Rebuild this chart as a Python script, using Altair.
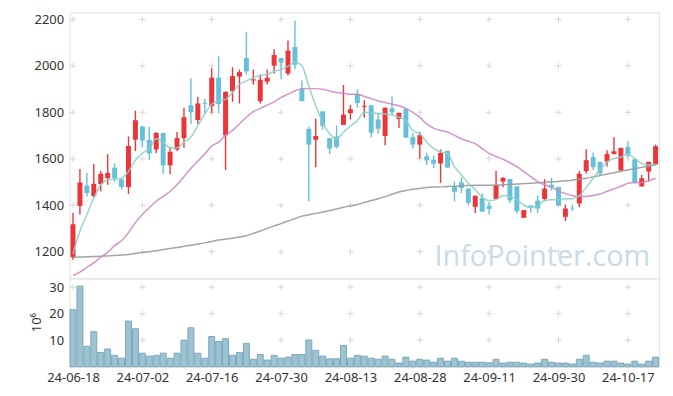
import itertools
import altair as alt
import pandas as pd

dates = ["24-06-18", "24-06-19", "24-06-20", "24-06-21", "24-06-24", "24-06-25", "24-06-26", "24-06-27", "24-06-28",
         "24-07-01", "24-07-02", "24-07-03", "24-07-04", "24-07-05", "24-07-08", "24-07-09", "24-07-10", "24-07-11",
         "24-07-12", "24-07-15", "24-07-16", "24-07-17", "24-07-18", "24-07-19", "24-07-22", "24-07-23", "24-07-24",
         "24-07-25", "24-07-26", "24-07-29", "24-07-30", "24-07-31",
         "24-08-01", "24-08-02", "24-08-05", "24-08-06", "24-08-07", "24-08-08", "24-08-09", "24-08-12", "24-08-13",
         "24-08-14", "24-08-16", "24-08-19", "24-08-20", "24-08-21", "24-08-22", "24-08-23", "24-08-26", "24-08-27",
         "24-08-28", "24-08-29", "24-08-30",
         "24-09-02", "24-09-03", "24-09-04", "24-09-05", "24-09-06", "24-09-09", "24-09-10", "24-09-11", "24-09-12",
         "24-09-13", "24-09-19", "24-09-20", "24-09-23", "24-09-24", "24-09-25", "24-09-26", "24-09-27", "24-09-30",
         "24-10-02", "24-10-04", "24-10-07", "24-10-08", "24-10-10", "24-10-11", "24-10-14", "24-10-15", "24-10-16",
         "24-10-17", "24-10-18", "24-10-21", "24-10-22", "24-10-23"]

open_ = [1176, 1397, 1485, 1440, 1491, 1516, 1562, 1511, 1478, 1682,
         1739, 1681, 1640, 1711, 1572, 1640, 1689, 1830, 1767, 1841,
         1827, 1949, 1701, 1891, 1954, 2034, 1937, 1848, 1932, 2001,
         2034, 1967, 2081, 1900, 1728, 1682, 1804, 1689, 1696, 1746,
         1797, 1878, 1824, 1830, 1769, 1698, 1817, 1771, 1815, 1693,
         1661, 1611, 1596, 1580, 1634, 1481, 1498, 1472, 1393, 1431,
         1396, 1427, 1502, 1513, 1481, 1346, 1399, 1420, 1427, 1488,
         1479, 1350, 1389, 1407, 1547, 1607, 1587, 1587, 1620, 1549,
         1651, 1598, 1481, 1545, 1576]
close = [1318, 1498, 1452, 1492, 1535, 1539, 1516, 1478, 1655, 1766,
         1678, 1623, 1711, 1572, 1630, 1689, 1779, 1800, 1838, 1837,
         1949, 1835, 1888, 1956, 1973, 1976, 1942, 1940, 1949, 2047,
         2014, 2066, 2005, 1848, 1661, 1698, 1742, 1644, 1651, 1790,
         1813, 1840, 1828, 1712, 1729, 1820, 1800, 1798, 1691, 1661,
         1701, 1593, 1579, 1625, 1562, 1458, 1474, 1410, 1441, 1372,
         1384, 1488, 1518, 1421, 1374, 1379, 1389, 1386, 1471, 1477,
         1399, 1386, 1386, 1536, 1594, 1564, 1537, 1620, 1632, 1647,
         1615, 1495, 1516, 1587, 1654]
high = [1367, 1556, 1539, 1577, 1547, 1620, 1580, 1516, 1696, 1807,
        1743, 1737, 1715, 1711, 1648, 1715, 1820, 1947, 1866, 1857,
        1990, 2041, 1890, 1994, 1984, 2147, 1984, 1963, 1984, 2072,
        2034, 2109, 2194, 1937, 1740, 1773, 1804, 1689, 1743, 1918,
        1832, 1899, 1852, 1830, 1793, 1820, 1868, 1798, 1815, 1712,
        1715, 1625, 1613, 1640, 1634, 1502, 1519, 1472, 1441, 1452,
        1414, 1547, 1520, 1513, 1481, 1379, 1399, 1441, 1512, 1519,
        1479, 1403, 1403, 1547, 1641, 1627, 1587, 1637, 1693, 1647,
        1675, 1598, 1530, 1587, 1661]
low = [1165, 1360, 1438, 1431, 1460, 1488, 1501, 1467, 1448, 1633,
       1650, 1596, 1624, 1535, 1533, 1633, 1647, 1750, 1750, 1796,
       1796, 1796, 1552, 1845, 1838, 1963, 1919, 1838, 1920, 1967,
       1942, 1959, 1984, 1848, 1417, 1563, 1726, 1621, 1644, 1746,
       1769, 1820, 1777, 1692, 1708, 1658, 1788, 1732, 1691, 1644,
       1601, 1573, 1559, 1496, 1562, 1417, 1452, 1399, 1367, 1372,
       1360, 1427, 1477, 1410, 1364, 1346, 1369, 1367, 1417, 1462,
       1399, 1332, 1374, 1391, 1537, 1552, 1528, 1566, 1620, 1549,
       1606, 1495, 1481, 1502, 1573]

ma5 = [1190, 1289, 1360, 1431, 1488, 1509, 1512, 1516, 1545, 1594,
       1623, 1644, 1686, 1672, 1647, 1647, 1672, 1693, 1743, 1793,
       1835, 1849, 1856, 1885, 1920, 1935, 1949, 1959, 1963, 1977,
       1984, 1998, 2015, 2001, 1913, 1828, 1757, 1708, 1686, 1715,
       1740, 1764, 1800, 1797, 1795, 1793, 1788, 1779, 1764, 1722,
       1708, 1672, 1644, 1630, 1623, 1566, 1530, 1495, 1467, 1434,
       1420, 1424, 1442, 1438, 1424, 1400, 1391, 1396, 1421, 1424,
       1424, 1427, 1428, 1442, 1477, 1516, 1552, 1587, 1601, 1608,
       1618, 1601, 1580, 1573, 1576]
ma20 = [1098, 1112, 1133, 1152, 1176, 1197, 1226, 1247, 1282, 1325,
        1360, 1389, 1417, 1438, 1460, 1488, 1523, 1559, 1590, 1621,
        1655, 1672, 1701, 1722, 1750, 1779, 1803, 1817, 1831, 1845,
        1864, 1878, 1892, 1902, 1902, 1902, 1899, 1892, 1885, 1882,
        1878, 1878, 1868, 1859, 1849, 1842, 1835, 1828, 1817, 1800,
        1779, 1750, 1732, 1722, 1715, 1701, 1686, 1675, 1665, 1644,
        1623, 1610, 1598, 1583, 1566, 1545, 1523, 1502, 1488, 1477,
        1462, 1450, 1441, 1438, 1438, 1442, 1448, 1460, 1471, 1481,
        1495, 1498, 1498, 1505, 1516]
ma60 = [1176, 1177, 1178, 1179, 1180, 1182, 1184, 1186, 1188, 1192,
        1197, 1200, 1204, 1209, 1214, 1218, 1223, 1228, 1233, 1238,
        1244, 1250, 1254, 1258, 1263, 1269, 1279, 1289, 1300, 1311,
        1321, 1332, 1342, 1353, 1359, 1365, 1371, 1377, 1384, 1391,
        1397, 1403, 1412, 1420, 1428, 1437, 1447, 1457, 1463, 1469,
        1472, 1476, 1478, 1479, 1481, 1482, 1484, 1485, 1486, 1486,
        1486, 1486, 1488, 1490, 1491, 1493, 1495, 1497, 1499, 1501,
        1502, 1505, 1508, 1512, 1516, 1522, 1528, 1534, 1540, 1546,
        1552, 1557, 1563, 1568, 1573]

volume = [21.5, 30.4, 7.7, 13.2, 5.4, 6.7, 4.3, 3.2, 17.2, 14.3,
          5.1, 4.0, 4.3, 5.1, 3.2, 5.1, 10.0, 14.7, 5.1, 3.2,
          11.4, 9.5, 10.6, 4.3, 5.4, 8.8, 2.8, 4.6, 2.5, 4.3,
          3.2, 3.6, 4.6, 4.6, 10.1, 6.2, 4.0, 3.0, 3.0, 8.0,
          3.2, 4.3, 4.0, 3.2, 2.8, 4.0, 2.8, 1.4, 3.6, 2.1,
          2.8, 2.5, 1.7, 3.2, 2.1, 3.2, 2.1, 1.7, 1.7, 1.7,
          1.5, 2.8, 1.4, 1.7, 1.7, 1.4, 1.0, 1.4, 2.8, 1.7,
          1.4, 1.4, 1.0, 2.8, 4.3, 1.7, 1.4, 2.1, 2.1, 1.4,
          1.0, 2.1, 1.0, 2.1, 3.6]

price_ticks = [1200, 1400, 1600, 1800, 2000, 2200]
vol_ticks = [10, 20, 30]
x_ticks = [0, 10, 20, 30, 40, 50, 60, 70, 80]

RED = "#ec3439"
BLUE = "#66c0d8"
CROSS = "#d6d6d6"
FONT = "Noto Sans"

n = len(dates)
df = pd.DataFrame({"idx": list(range(n)), "date": dates, "open": open_, "close": close,
                   "high": high, "low": low, "ma5": ma5, "ma20": ma20, "ma60": ma60,
                   "volume": volume})

W = 594
xscale = alt.Scale(domain=[-0.5, n - 0.5], nice=False, zero=False, padding=0)
pscale = alt.Scale(domain=[1085, 2230], nice=False, zero=False, padding=0)
vscale = alt.Scale(domain=[0, 33.3], nice=False, zero=False, padding=0)

label_expr = "[" + ",".join("'" + d + "'" for d in dates) + "][datum.value]"

cross_shape = "M-1,0H1M0,-1V1"

# price panel
pcross = pd.DataFrame(list(itertools.product(x_ticks, price_ticks)), columns=["idx", "v"])
price_grid = alt.Chart(pcross).mark_point(shape=cross_shape, size=36, filled=False,
                                          stroke=CROSS, strokeWidth=1, opacity=1).encode(
    x=alt.X("idx:Q", scale=xscale, axis=None),
    y=alt.Y("v:Q", scale=pscale,
            axis=alt.Axis(values=price_ticks, format="d", ticks=False, domain=False, grid=False,
                          labelPadding=6, labelFontSize=13, labelFont=FONT, labelColor="#333333",
                          minExtent=56, maxExtent=56, title=None)),
)

watermark = alt.Chart(pd.DataFrame({"t": ["InfoPointer.com"]})).mark_text(
    align="right", baseline="alphabetic", fontSize=29, font="Open Sans", color="#c8dbe7"
).encode(text="t:N", x=alt.value(585), y=alt.value(255))

base = alt.Chart(df).encode(x=alt.X("idx:Q", scale=xscale, axis=None))
color_cond = alt.condition("datum.close >= datum.open", alt.value(RED), alt.value(BLUE))

wicks = base.mark_rule(strokeWidth=1.4).encode(
    y=alt.Y("low:Q", scale=pscale), y2="high:Q", color=color_cond)
bodies = base.mark_bar(size=5).encode(
    y=alt.Y("open:Q", scale=pscale), y2="close:Q", color=color_cond)

lines = alt.Chart(df).transform_fold(["ma60", "ma20", "ma5"], as_=["series", "val"]).mark_line(
    strokeWidth=1.5, opacity=0.9, interpolate="monotone").encode(
    x=alt.X("idx:Q", scale=xscale, axis=None),
    y=alt.Y("val:Q", scale=pscale),
    color=alt.Color("series:N", legend=None,
                    scale=alt.Scale(domain=["ma5", "ma20", "ma60"],
                                    range=["#8ccfc5", "#cc88c4", "#9a9a9a"])),
    detail="series:N",
)

price = alt.layer(price_grid, watermark, wicks, bodies, lines).properties(width=W, height=268)

# volume panel
vcross = pd.DataFrame(list(itertools.product(x_ticks, vol_ticks)), columns=["idx", "v"])
vol_grid = alt.Chart(vcross).mark_point(shape=cross_shape, size=36, filled=False,
                                        stroke=CROSS, strokeWidth=1, opacity=1).encode(
    x=alt.X("idx:Q", scale=xscale,
            axis=alt.Axis(values=x_ticks, labelExpr=label_expr, ticks=False, domain=False,
                          grid=False, labelPadding=5, labelFontSize=13, labelFont=FONT,
                          labelColor="#333333", labelOverlap=False, labelFlush=False, title=None)),
    y=alt.Y("v:Q", scale=vscale,
            axis=alt.Axis(values=vol_ticks, ticks=False, domain=False, grid=False,
                          labelPadding=6, labelFontSize=13, labelFont=FONT, labelColor="#333333",
                          minExtent=56, maxExtent=56, title="10⁶", titleFont=FONT,
                          titleFontSize=13, titleFontWeight="normal", titleColor="#333333",
                          titleAngle=270, titleX=-33, titleY=44, titleAlign="center",
                          titleBaseline="middle")),
)
vol_bars = alt.Chart(df).mark_bar(size=6, fill="#9dc2d2", stroke="#7aa7bb", strokeWidth=1).encode(
    x=alt.X("idx:Q", scale=xscale),
    y=alt.Y("volume:Q", scale=vscale),
)
vol = alt.layer(vol_grid, vol_bars).properties(width=W, height=89)

chart = alt.vconcat(price, vol, spacing=0, bounds="flush").properties(
    padding={"left": 5, "top": 2, "right": 5, "bottom": 5},
    background="white",
).configure_view(stroke="#e2e2e2", strokeWidth=1)

chart.save("out.html", embed_options={"renderer": "svg", "actions": False})
